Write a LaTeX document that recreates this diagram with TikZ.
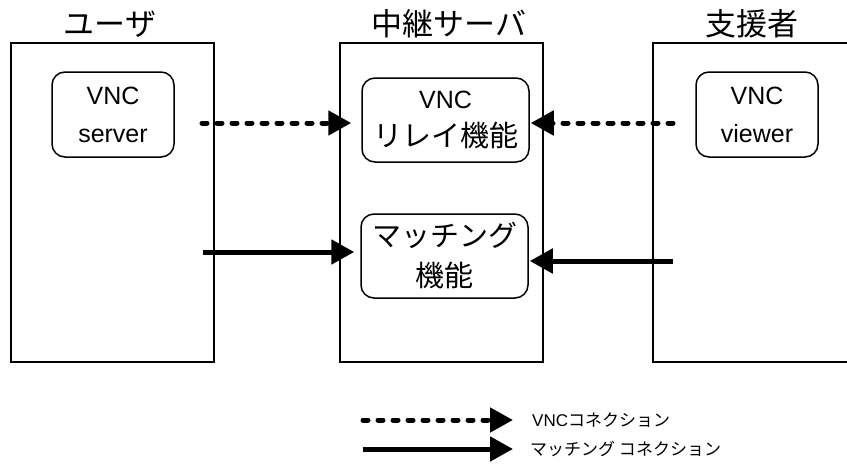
\documentclass[tikz,border=0pt]{standalone}
\usepackage{fontspec}
\setmainfont{Liberation Sans}
\newfontfamily\jp{Noto Sans CJK JP}
\usetikzlibrary{arrows.meta}
\tikzset{
  bigbox/.style={draw, line width=1.6pt, minimum width=203pt, minimum height=319pt, inner sep=0pt},
  funcbox/.style={draw, line width=1.5pt, rounded corners=13pt, align=center, inner sep=0pt,
    font=\fontsize{25}{38}\selectfont},
  title/.style={font=\jp\fontsize{31}{36}\selectfont, inner sep=0pt},
  conn/.style={line width=5pt, -{Triangle[length=23pt,width=24pt]}},
  vncconn/.style={conn, line cap=round, dash pattern=on 5pt off 10pt},
  matchconn/.style={conn},
  legtext/.style={anchor=west, inner sep=0pt, font=\fontsize{17}{20}\selectfont}
}
\begin{document}
\begin{tikzpicture}[x=1pt,y=-1pt]
\useasboundingbox (0,0) rectangle (847,475);
\clip (0,0) rectangle (847,475);
% containers
\node[bigbox] (user) at (112.5,202.5) {};
\node[bigbox] (relaysrv) at (441.5,202.5) {};
\node[bigbox] (helper) at (754.5,202.5) {};
% titles
\node[title] (tuser) at (110,24) {ユーザ};
\node[title] (trelay) at (449,24) {中継サーバ};
\node[title] (thelper) at (752,24) {支援者};
% function boxes
\node[funcbox, minimum width=122pt, minimum height=85pt] (server) at (113,114.5) {VNC\\server};
\node[funcbox, minimum width=167pt, minimum height=84pt] (relay) at (445.5,120) {VNC\\{\jp\fontsize{29}{38}\selectfont リレイ機能}};
\node[funcbox, minimum width=167pt, minimum height=84pt, font=\jp\fontsize{29}{40}\selectfont] (match) at (444.5,256) {マッチング\\機能};
\node[funcbox, minimum width=122pt, minimum height=85pt] (viewer) at (757,114.5) {VNC\\viewer};
% connector free ends
\coordinate (sv) at (202,123);
\coordinate (vw) at (673,123);
\coordinate (mu) at (203,252);
\coordinate (mh) at (673,261);
\draw[vncconn] (sv) -- ([xshift=-10pt]sv -| relay.west);
\draw[vncconn] (vw) -- ([xshift=1pt]vw -| relay.east);
\draw[matchconn] (mu) -- ([xshift=-6pt]mu -| match.west);
\draw[matchconn] (mh) -- ([xshift=1pt]mh -| match.east);
% legend
\node[legtext] (lt1) at (532,420) {VNC{\jp コネクション}};
\node[legtext] (lt2) at (530,449) {\jp マッチング コネクション};
\coordinate (l1) at (363,420);
\coordinate (l2) at (363,449);
\draw[vncconn] (l1) -- ([xshift=-19pt]lt1.west);
\draw[matchconn] (l2) -- ([xshift=-17pt]lt2.west);
\end{tikzpicture}
\end{document}
